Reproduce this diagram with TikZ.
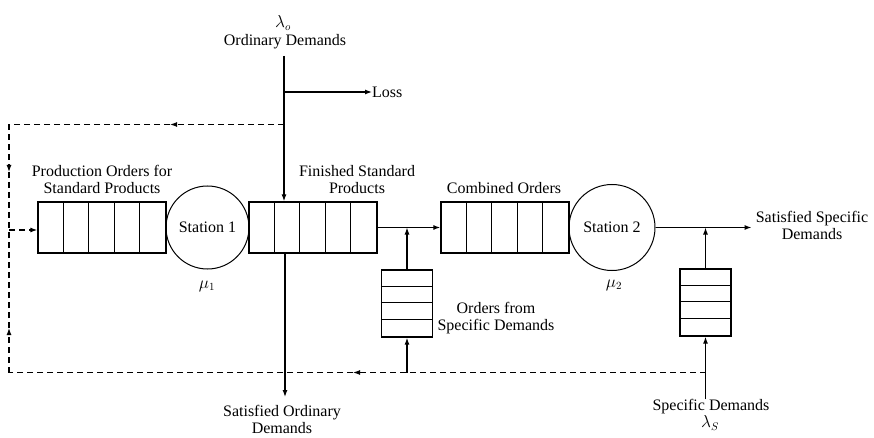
\documentclass[tikz,border=0pt]{standalone}
\usepackage{fontspec}
\setmainfont{Liberation Serif}
\usetikzlibrary{arrows.meta}
\begin{document}
\begin{tikzpicture}[x=1pt,y=-1pt,
  every node/.style={font=\fontsize{16}{17}\selectfont},
  lbl/.style={align=center, inner sep=0pt},
  qbox/.style={draw, line width=1.3pt, minimum width=128pt, minimum height=51pt, inner sep=0pt},
  vbox/.style={draw, line width=1.3pt, minimum width=51pt, minimum height=67pt, inner sep=0pt},
  stn/.style={draw, circle, line width=1pt, inner sep=0pt},
  divl/.style={line width=0.8pt},
  conn/.style={line width=1.2pt, -{Latex[length=7pt,width=5pt]}},
  fb/.style={line width=1.2pt, dash pattern=on 6pt off 4pt},
  fba/.style={fb, -{Latex[length=7pt,width=5pt]}}
]
\useasboundingbox (0,0) rectangle (874,438);

% queues
\node[qbox] (q1) at (102,227.5) {};
\node[qbox] (q2) at (313,227.5) {};
\node[qbox] (q3) at (505,227.5) {};
\foreach \q in {q1,q2,q3}
  \foreach \k in {1,2,3,4}
    \draw[divl] ([xshift=\k*25.6pt]\q.north west) -- ([xshift=\k*25.6pt]\q.south west);

\node[vbox] (q4) at (407,303.5) {};
\node[vbox] (q5) at (705.5,302.5) {};
\foreach \q in {q4,q5}
  \foreach \k in {1,2,3}
    \draw[divl] ([yshift=-\k*16.75pt]\q.north west) -- ([yshift=-\k*16.75pt]\q.north east);

% stations
\node[stn, minimum size=83pt] (s1) at (207.5,227.5) {Station 1};
\node[stn, minimum size=86pt] (s2) at (612,227.5) {Station 2};
\node (mu1) at (207,286) {$\mu_1$};
\node (mu2) at (614,285) {$\mu_2$};

% labels
\node (lo) at (283,23) {$\lambda_o$};
\node[lbl] (od) at (285,42) {Ordinary Demands};
\node[lbl, anchor=west] (loss) at (372,92) {Loss};
\node[lbl] (pos) at (102,179) {Production Orders for\\Standard Products};
\node[lbl] (fsp) at (357,180) {Finished Standard\\Products};
\node[lbl] (co) at (504,188) {Combined Orders};
\node[lbl] (ofsd) at (496,318) {Orders from\\Specific Demands};
\node[lbl] (ssd) at (812,225) {Satisfied Specific\\Demands};
\node[lbl] (sod) at (282,419) {Satisfied Ordinary\\Demands};
\node[lbl] (sd) at (711,407) {Specific Demands};
\node (ls) at (710,423) {$\lambda_S$};

% coordinates
\coordinate (odtop) at (284,56);
\coordinate (lossj) at (284,92);
\coordinate (fbj) at (284,124.5);
\coordinate (tl) at (9,124.5);
\coordinate (bl) at (9,372.5);
\coordinate (ml) at (9,230);
\coordinate (ta) at (170,124.5);
\coordinate (da) at (9,172);
\coordinate (ua) at (9,328);
\coordinate (ba) at (353,372.5);
\coordinate (q4b) at (407,372.5);
\coordinate (q5b) at (705.5,372.5);
\coordinate (j1) at (407,227.5);
\coordinate (j2) at (705.5,227.5);
\coordinate (sodtop) at (285,397);

% solid connectors
\draw[conn] (odtop) -- (odtop |- q2.north);
\draw[conn] (lossj) -- (loss.west);
\draw[conn] (q2.south -| sodtop) -- (sodtop);
\draw[conn] (q2.east) -- (q3.west);
\draw[conn] (q4.north) -- (j1);
\draw[conn] (q4b) -- (q4.south);
\draw[conn] (s2.east) -- ([xshift=-4pt]ssd.west |- s2.east);
\draw[conn] (q5.north) -- (j2);
\draw[conn] (sd.north -| q5.south) -- (q5.south);

% dashed feedback
\draw[fba] (fbj) -- (ta);
\draw[fb] (ta) -- (tl);
\draw[fba] (tl) -- (da);
\draw[fb] (da) -- (ml);
\draw[fba] (ml) -- (q1.west |- ml);
\draw[fba] (q5b) -- (ba);
\draw[fb] (ba) -- (bl);
\draw[fba] (bl) -- (ua);
\draw[fb] (ua) -- (ml);
\end{tikzpicture}
\end{document}
